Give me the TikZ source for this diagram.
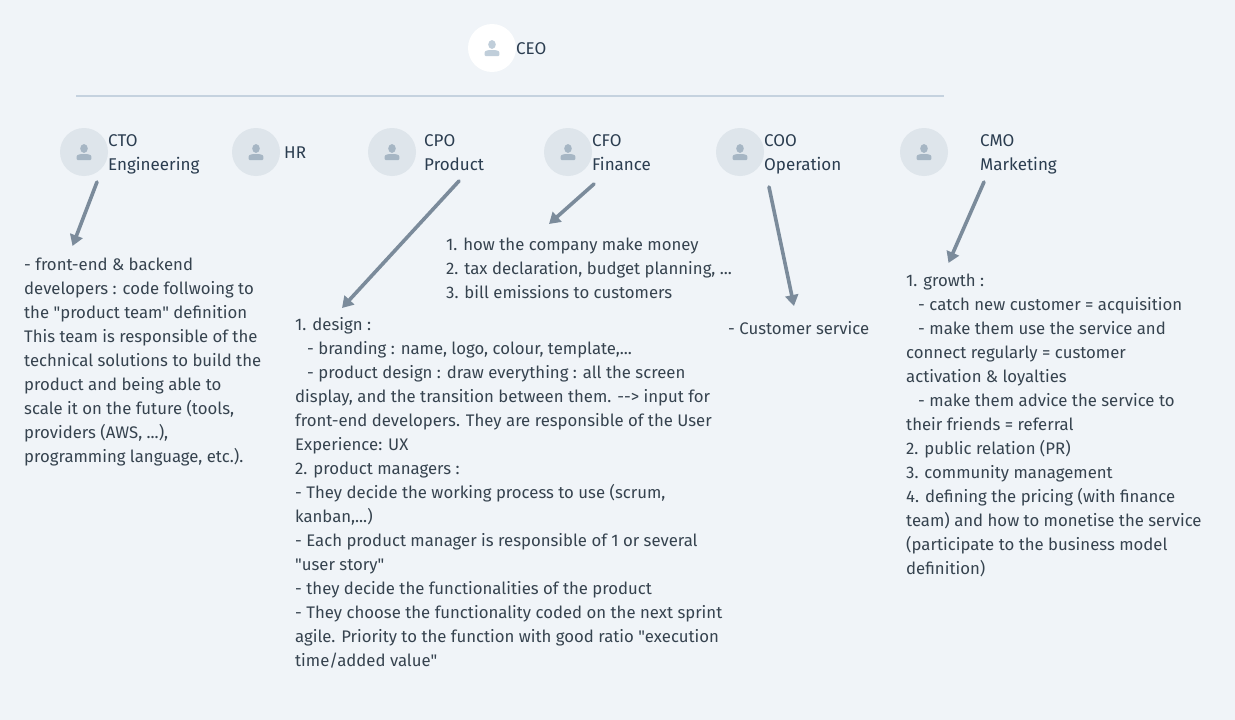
\documentclass[tikz,border=0pt]{standalone}
\usepackage{fontspec}
\newfontfamily\din{Fira Sans}
\definecolor{bgc}{HTML}{F0F4F8}
\definecolor{rulec}{HTML}{C5D2DF}
\definecolor{discc}{HTML}{DEE5EB}
\definecolor{iconc}{HTML}{A6B6C4}
\definecolor{iconl}{HTML}{C0CEDA}
\definecolor{labelc}{HTML}{2B3D50}
\definecolor{bodyc}{HTML}{36434F}
\definecolor{arrowc}{HTML}{7B8B9B}
\usetikzlibrary{arrows.meta}
\newcommand{\ind}{\hspace*{12pt}}
\newcommand{\personicon}[2]{%
  \begin{scope}[shift={(#1)}]
  \fill[#2] (0,-3.5) ellipse (3.8 and 4.4);
  \fill[#2] (-7.3,7) -- (-7.3,4.5) .. controls (-7.3,2.6) and (-4,2) .. (0,2) .. controls (4,2) and (7.3,2.6) .. (7.3,4.5) -- (7.3,7) .. controls (7.3,7.8) and (7,8) .. (6.3,8) -- (-6.3,8) .. controls (-7,8) and (-7.3,7.8) .. (-7.3,7) -- cycle;
  \end{scope}
}
\tikzset{
  x=1pt,y=-1pt,
  disc/.style={circle,fill=discc,minimum size=48pt,inner sep=0pt},
  rootdisc/.style={circle,fill=white,minimum size=48pt,inner sep=0pt},
  label/.style={anchor=west,inner sep=0pt,align=left,text=labelc,font=\din\fontsize{17pt}{24pt}\selectfont},
  body/.style={anchor=north west,inner sep=0pt,align=left,text=bodyc,font=\din\fontsize{16.75pt}{24pt}\selectfont},
  pointer/.style={draw=arrowc,line width=3.6pt,line cap=round,-{Triangle[length=11pt,width=13pt]}},
}
\begin{document}
\begin{tikzpicture}
\useasboundingbox[fill=bgc] (0,0) rectangle (1235,720);
\draw[rulec,line width=2pt] (76,96) coordinate (ruleL) -- (944,96) coordinate (ruleR);

\node[rootdisc] (ceo) at (492,48) {};
\personicon{ceo}{iconl}
\node[label] (ceot) at (516,50) {\strut CEO};

\node[disc] (cto) at (84,152) {};
\personicon{cto}{iconc}
\node[label] (ctot) at (108,154) {\strut CTO\\\strut Engineering};
\node[disc] (hr) at (256,152) {};
\personicon{hr}{iconc}
\node[label] (hrt) at (284,154) {\strut HR};
\node[disc] (cpo) at (392,152) {};
\personicon{cpo}{iconc}
\node[label] (cpot) at (424,154) {\strut CPO\\\strut Product};
\node[disc] (cfo) at (568,152) {};
\personicon{cfo}{iconc}
\node[label] (cfot) at (592,154) {\strut CFO\\\strut Finance};
\node[disc] (coo) at (740,152) {};
\personicon{coo}{iconc}
\node[label] (coot) at (764,154) {\strut COO\\\strut Operation};
\node[disc] (cmo) at (924,152) {};
\personicon{cmo}{iconc}
\node[label] (cmot) at (980,154) {\strut CMO\\\strut Marketing};

\node[body] (ctob) at (24,253.5) {\strut- front-end \& backend\\developers : code follwoing to\\the "product team" definition\\This team is responsible of the\\technical solutions to build the\\product and being able to\\scale it on the future (tools,\\providers (AWS, ...),\\programming language, etc.).};
\node[body] (cpob) at (295,313.5) {\strut 1. design :\\\ind- branding : name, logo, colour, template,...\\\ind- product design : draw everything : all the screen\\display, and the transition between them. --> input for\\front-end developers. They are responsible of the User\\Experience: UX\\2. product managers :\\- They decide the working process to use (scrum,\\kanban,...)\\- Each product manager is responsible of 1 or several\\"user story"\\- they decide the functionalities of the product\\- They choose the functionality coded on the next sprint\\agile. Priority to the function with good ratio "execution\\time/added value"};
\node[body] (cfob) at (446,233.5) {\strut 1. how the company make money\\2. tax declaration, budget planning, ...\\3. bill emissions to customers};
\node[body] (coob) at (728,317.5) {\strut- Customer service};
\node[body] (cmob) at (906,269.5) {\strut 1. growth :\\\ind- catch new customer = acquisition\\\ind- make them use the service and\\connect regularly = customer\\activation \& loyalties\\\ind- make them advice the service to\\their friends = referral\\2. public relation (PR)\\3. community management\\4. defining the pricing (with finance\\team) and how to monetise the service\\(participate to the business model\\definition)};

\coordinate (a1) at (97,182); \coordinate (b1) at (72.5,246);
\coordinate (a2) at (459,181); \coordinate (b2) at (342,308);
\coordinate (a3) at (594,184); \coordinate (b3) at (549,224);
\coordinate (a4) at (769,187); \coordinate (b4) at (794,306);
\coordinate (a5) at (984,182); \coordinate (b5) at (948.5,263);
\draw[pointer] (a1) -- (b1);
\draw[pointer] (a2) -- (b2);
\draw[pointer] (a3) -- (b3);
\draw[pointer] (a4) -- (b4);
\draw[pointer] (a5) -- (b5);
\end{tikzpicture}
\end{document}
